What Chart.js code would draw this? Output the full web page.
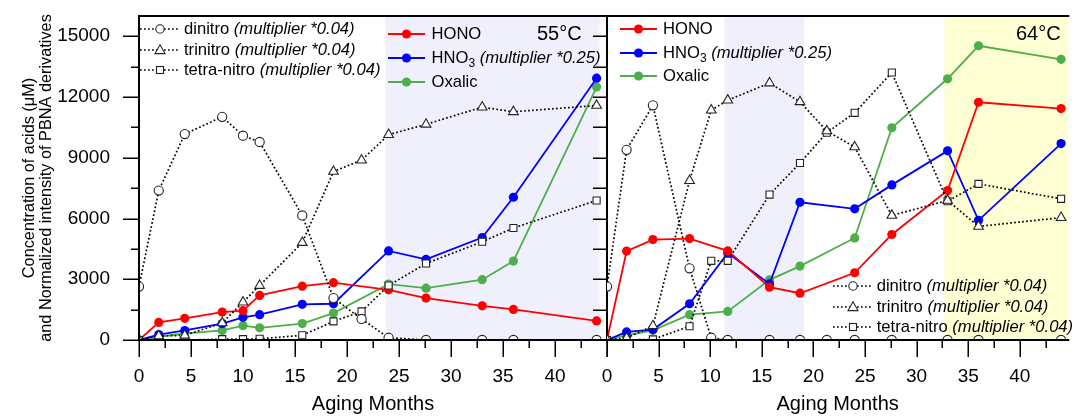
<!DOCTYPE html>
<html>
<head>
<meta charset="utf-8">
<script src="https://cdn.jsdelivr.net/npm/chart.js@4.4.1/dist/chart.umd.min.js"></script>
<style>
body{margin:0;background:#fff;width:1075px;height:416px;overflow:hidden;position:relative;font-family:"Liberation Sans",Arial,sans-serif}
canvas{position:absolute;top:0}
#c55{left:0}
#c64{left:600px}
.lg{position:absolute;display:flex;align-items:center;height:20px;font-size:16.6px;white-space:nowrap;color:#000}
.lg svg{flex:none}
.temp{position:absolute;font-size:20px;line-height:24px;color:#000}
sub{font-size:12px;vertical-align:-4px;line-height:0}
</style>
</head>
<body>
<canvas id="c55" width="620" height="416"></canvas>
<canvas id="c64" width="475" height="416"></canvas>
<div class="temp" style="left:537px;top:21px">55°C</div>
<div class="temp" style="left:1016px;top:21px">64°C</div>
<script>
// 55°C panel
var months55  = [0, 1.9, 4.4, 8, 10, 11.6, 15.7, 18.7, 24, 27.6, 33, 36, 44];
var months55n = [0, 1.9, 4.4, 8, 10, 11.6, 15.7, 18.7, 21.4, 24, 27.6, 33, 36, 44];
var hono55     = [0, 870, 1070, 1380, 1450, 2200, 2660, 2830, 2480, 2070, 1690, 1510, 940];
var hno3_55    = [0, 270, 470, 810, 1120, 1250, 1760, 1790, 4400, 3980, 5060, 7050, 12930];
var oxalic55   = [0, 160, 320, 470, 710, 600, 810, 1330, 2760, 2560, 2980, 3900, 12490];
var dinitro55  = [2640, 7380, 10170, 11020, 10090, 9780, 6150, 2070, 1040, 110, 0, 0, 0, 0];
var trinitro55 = [0, 200, 230, 840, 1870, 2690, 4810, 8320, 8880, 10140, 10650, 11500, 11270, 11580];
var tetra55    = [0, 0, 0, 40, 40, 60, 230, 920, 1410, 2690, 3780, 4850, 5530, 6890];

// 64°C panel
var months64  = [0, 1.9, 4.45, 8, 11.7, 15.75, 18.7, 24, 27.6, 33, 36, 44];
var months64n = [0, 1.9, 4.45, 8, 10.1, 11.7, 15.75, 18.7, 21.3, 24, 27.6, 33, 36, 44];
var hono64     = [0, 4390, 4960, 5010, 4400, 2610, 2310, 3320, 5210, 7380, 11740, 11430];
var hno3_64    = [0, 400, 515, 1790, 4300, 2770, 6800, 6480, 7660, 9340, 5910, 9700];
var oxalic64   = [0, 235, 480, 1250, 1410, 2970, 3650, 5040, 10480, 12900, 14530, 13860];
var dinitro64  = [2640, 9390, 11590, 3540, 110, 0, 0, 0, 0, 0, 0, 0, 0, 0];
var trinitro64 = [0, 100, 700, 7870, 11350, 11840, 12690, 11760, 10320, 9530, 6150, 6890, 5610, 6040];
var tetra64    = [0, 0, 30, 680, 3910, 3910, 7180, 8740, 10240, 11220, 13210, 6850, 7710, 6970];

var yTickLabels = [0, 3000, 6000, 9000, 12000, 15000];
var xTickLabels = [0, 5, 10, 15, 20, 25, 30, 35, 40];

Chart.defaults.font.family = '"Liberation Sans", Arial, sans-serif';
Chart.defaults.font.size = 19;
Chart.defaults.color = '#000';

function pts(xs, ys) {
    return xs.map(function (x, i) { return {x: x, y: ys[i]}; });
}
function nitro(label, xs, ys, style, r) {
    return {label: label, data: pts(xs, ys), borderColor: '#000', borderWidth: 1.7,
        borderDash: [1.7, 2.3], pointStyle: style, pointRadius: r,
        pointBackgroundColor: '#fff', pointBorderColor: '#222', pointBorderWidth: 1.1};
}
function acid(label, xs, ys, color) {
    return {label: label, data: pts(xs, ys), borderColor: color, borderWidth: 1.8,
        pointStyle: 'circle', pointRadius: 4.6, pointBackgroundColor: color,
        pointBorderColor: color, pointBorderWidth: 0};
}

// ticks, frame lines and shaded windows
var frame = {
    id: 'frame',
    beforeDatasetsDraw: function (chart, args, o) {
        var ctx = chart.ctx, a = chart.chartArea, x = chart.scales.x;
        ctx.save();
        (o.shades || []).forEach(function (s) {
            var x0 = x.getPixelForValue(s.from), x1 = x.getPixelForValue(s.to);
            ctx.fillStyle = s.color;
            ctx.fillRect(x0, a.top, x1 - x0, a.bottom - a.top);
        });
        ctx.restore();
    },
    afterDraw: function (chart, args, o) {
        var ctx = chart.ctx, a = chart.chartArea, x = chart.scales.x, y = chart.scales.y;
        var v, p, len;
        ctx.save();
        ctx.strokeStyle = '#000';
        ctx.lineWidth = 1.5;
        ctx.beginPath();
        for (v = 0; v <= x.max + 1e-6; v += 2.5) {
            p = Math.round(x.getPixelForValue(v)) + 0.25;
            len = v % 5 === 0 ? 17 : 8;
            ctx.moveTo(p, a.bottom); ctx.lineTo(p, a.bottom + len);
        }
        for (v = 0; v <= 15000; v += 1500) {
            p = Math.round(y.getPixelForValue(v)) + 0.25;
            if (o.leftTicks) {
                len = v % 3000 === 0 ? 16 : 8;
                ctx.moveTo(a.left - len, p); ctx.lineTo(a.left, p);
            }
            if (o.rightTicks) {
                ctx.moveTo(a.right - 14, p); ctx.lineTo(a.right, p);
            }
        }
        ctx.stroke();
        ctx.lineWidth = 2;
        ctx.beginPath();
        ctx.moveTo(a.left - 1, a.bottom); ctx.lineTo(a.right + 1, a.bottom);
        ctx.moveTo(a.left - 1, a.top); ctx.lineTo(a.right + 1, a.top);
        if (o.leftLine) { ctx.moveTo(a.left, a.top); ctx.lineTo(a.left, a.bottom); }
        if (o.rightLine) { ctx.moveTo(a.right, a.top); ctx.lineTo(a.right, a.bottom); }
        ctx.stroke();
        ctx.restore();
    }
};

function xAxis(max) {
    return {
        type: 'linear', min: 0, max: max,
        grid: {display: false, drawTicks: true, tickLength: 25}, border: {display: false},
        ticks: {padding: 0.6, maxRotation: 0, autoSkip: false,
            callback: function (v) { return xTickLabels.indexOf(v) >= 0 ? String(v) : ''; }},
        afterBuildTicks: function (s) {
            s.ticks = xTickLabels.map(function (v) { return {value: v}; });
        },
        title: {display: true, text: 'Aging Months', font: {size: 20}, padding: {top: 0, bottom: 0}},
        afterFit: function (s) { s.height = 76; }
    };
}

new Chart(document.getElementById('c55'), {
    type: 'line',
    data: {datasets: [
        nitro('dinitro', months55n, dinitro55, 'circle', 4.6),
        nitro('trinitro', months55n, trinitro55, 'triangle', 5.6),
        nitro('tetra-nitro', months55n, tetra55, 'rect', 5),
        acid('HONO', months55, hono55, '#ff0000'),
        acid('HNO3', months55, hno3_55, '#0000ff'),
        acid('Oxalic', months55, oxalic55, '#4daf4a')
    ]},
    options: {
        responsive: false, animation: false,
        layout: {padding: {top: 16, right: 13, bottom: 0, left: 0}},
        scales: {
            x: xAxis(45),
            y: {
                min: 0, max: 16000,
                grid: {display: false, drawTicks: true, tickLength: 27}, border: {display: false},
                ticks: {padding: 2, autoSkip: false,
                    callback: function (v) { return String(v); }},
                afterBuildTicks: function (s) {
                    s.ticks = yTickLabels.map(function (v) { return {value: v}; });
                },
                title: {display: true, font: {size: 16.3, lineHeight: 1.06}, padding: {top: 20.5, bottom: 0},
                    text: ['Concentration of acids (\u03bcM)', 'and Normalized intensity of PBNA derivatives']},
                afterFit: function (s) { s.width = 139; }
            }
        },
        plugins: {
            legend: {display: false}, tooltip: {enabled: false},
            frame: {leftTicks: true, rightTicks: true, leftLine: true, rightLine: true,
                shades: [{from: 23.7, to: 44.3, color: '#f0f0fc'}]}
        }
    },
    plugins: [frame]
});

new Chart(document.getElementById('c64'), {
    type: 'line',
    data: {datasets: [
        nitro('dinitro', months64n, dinitro64, 'circle', 4.6),
        nitro('trinitro', months64n, trinitro64, 'triangle', 5.6),
        nitro('tetra-nitro', months64n, tetra64, 'rect', 5),
        acid('HONO', months64, hono64, '#ff0000'),
        acid('HNO3', months64, hno3_64, '#0000ff'),
        acid('Oxalic', months64, oxalic64, '#4daf4a')
    ]},
    options: {
        responsive: false, animation: false,
        layout: {padding: {top: 16, right: 1, bottom: 0, left: 7}},
        scales: {
            x: xAxis(44.7),
            y: {display: false, min: 0, max: 16000}
        },
        plugins: {
            legend: {display: false}, tooltip: {enabled: false},
            frame: {shades: [{from: 11.4, to: 19.1, color: '#f0f0fc'}, {from: 32.7, to: 44.7, color: '#ffffd4'}]}
        }
    },
    plugins: [frame]
});

// legends
function acidIcon(color) {
    return '<svg width="37" height="20"><line x1="0" y1="10" x2="37" y2="10" stroke="' + color +
        '" stroke-width="1.8"/><circle cx="18.5" cy="10" r="4.6" fill="' + color + '"/></svg>';
}
function nitroIcon(shape) {
    var m = shape === 'circle' ? '<circle cx="20" cy="10" r="4.2"/>'
        : shape === 'triangle' ? '<polygon points="20,4.8 25,13.6 15,13.6"/>'
        : '<rect x="16.5" y="6.5" width="7" height="7"/>';
    return '<svg width="40" height="20"><line x1="0" y1="10" x2="40" y2="10" stroke="#000" stroke-width="1.7" stroke-dasharray="1.7 2.3"/>' +
        '<g fill="#fff" stroke="#222" stroke-width="1.1">' + m + '</g></svg>';
}
var nitroRows = [
    [nitroIcon('circle'), 'dinitro <i>(multiplier *0.04)</i>'],
    [nitroIcon('triangle'), 'trinitro <i>(multiplier *0.04)</i>'],
    [nitroIcon('rect'), 'tetra-nitro <i>(multiplier *0.04)</i>']
];
var acidRows = [
    [acidIcon('#ff0000'), 'HONO'],
    [acidIcon('#0000ff'), 'HNO<sub>3</sub> <i>(multiplier *0.25)</i>'],
    [acidIcon('#4daf4a'), 'Oxalic']
];
function addLegend(left, ys, gap, rows) {
    rows.forEach(function (r, i) {
        var d = document.createElement('div');
        d.className = 'lg';
        d.style.left = left + 'px';
        d.style.top = (ys[i] - 10) + 'px';
        d.innerHTML = r[0] + '<span style="margin-left:' + gap + 'px">' + r[1] + '</span>';
        document.body.appendChild(d);
    });
}
addLegend(140, [29, 49.5, 70], 4, nitroRows);
addLegend(388, [34.3, 58, 81.7], 6.5, acidRows);
addLegend(620, [29.3, 52.5, 76], 6, acidRows);
addLegend(833, [286, 306.7, 327.3], 3.7, nitroRows);
</script>
</body>
</html>
